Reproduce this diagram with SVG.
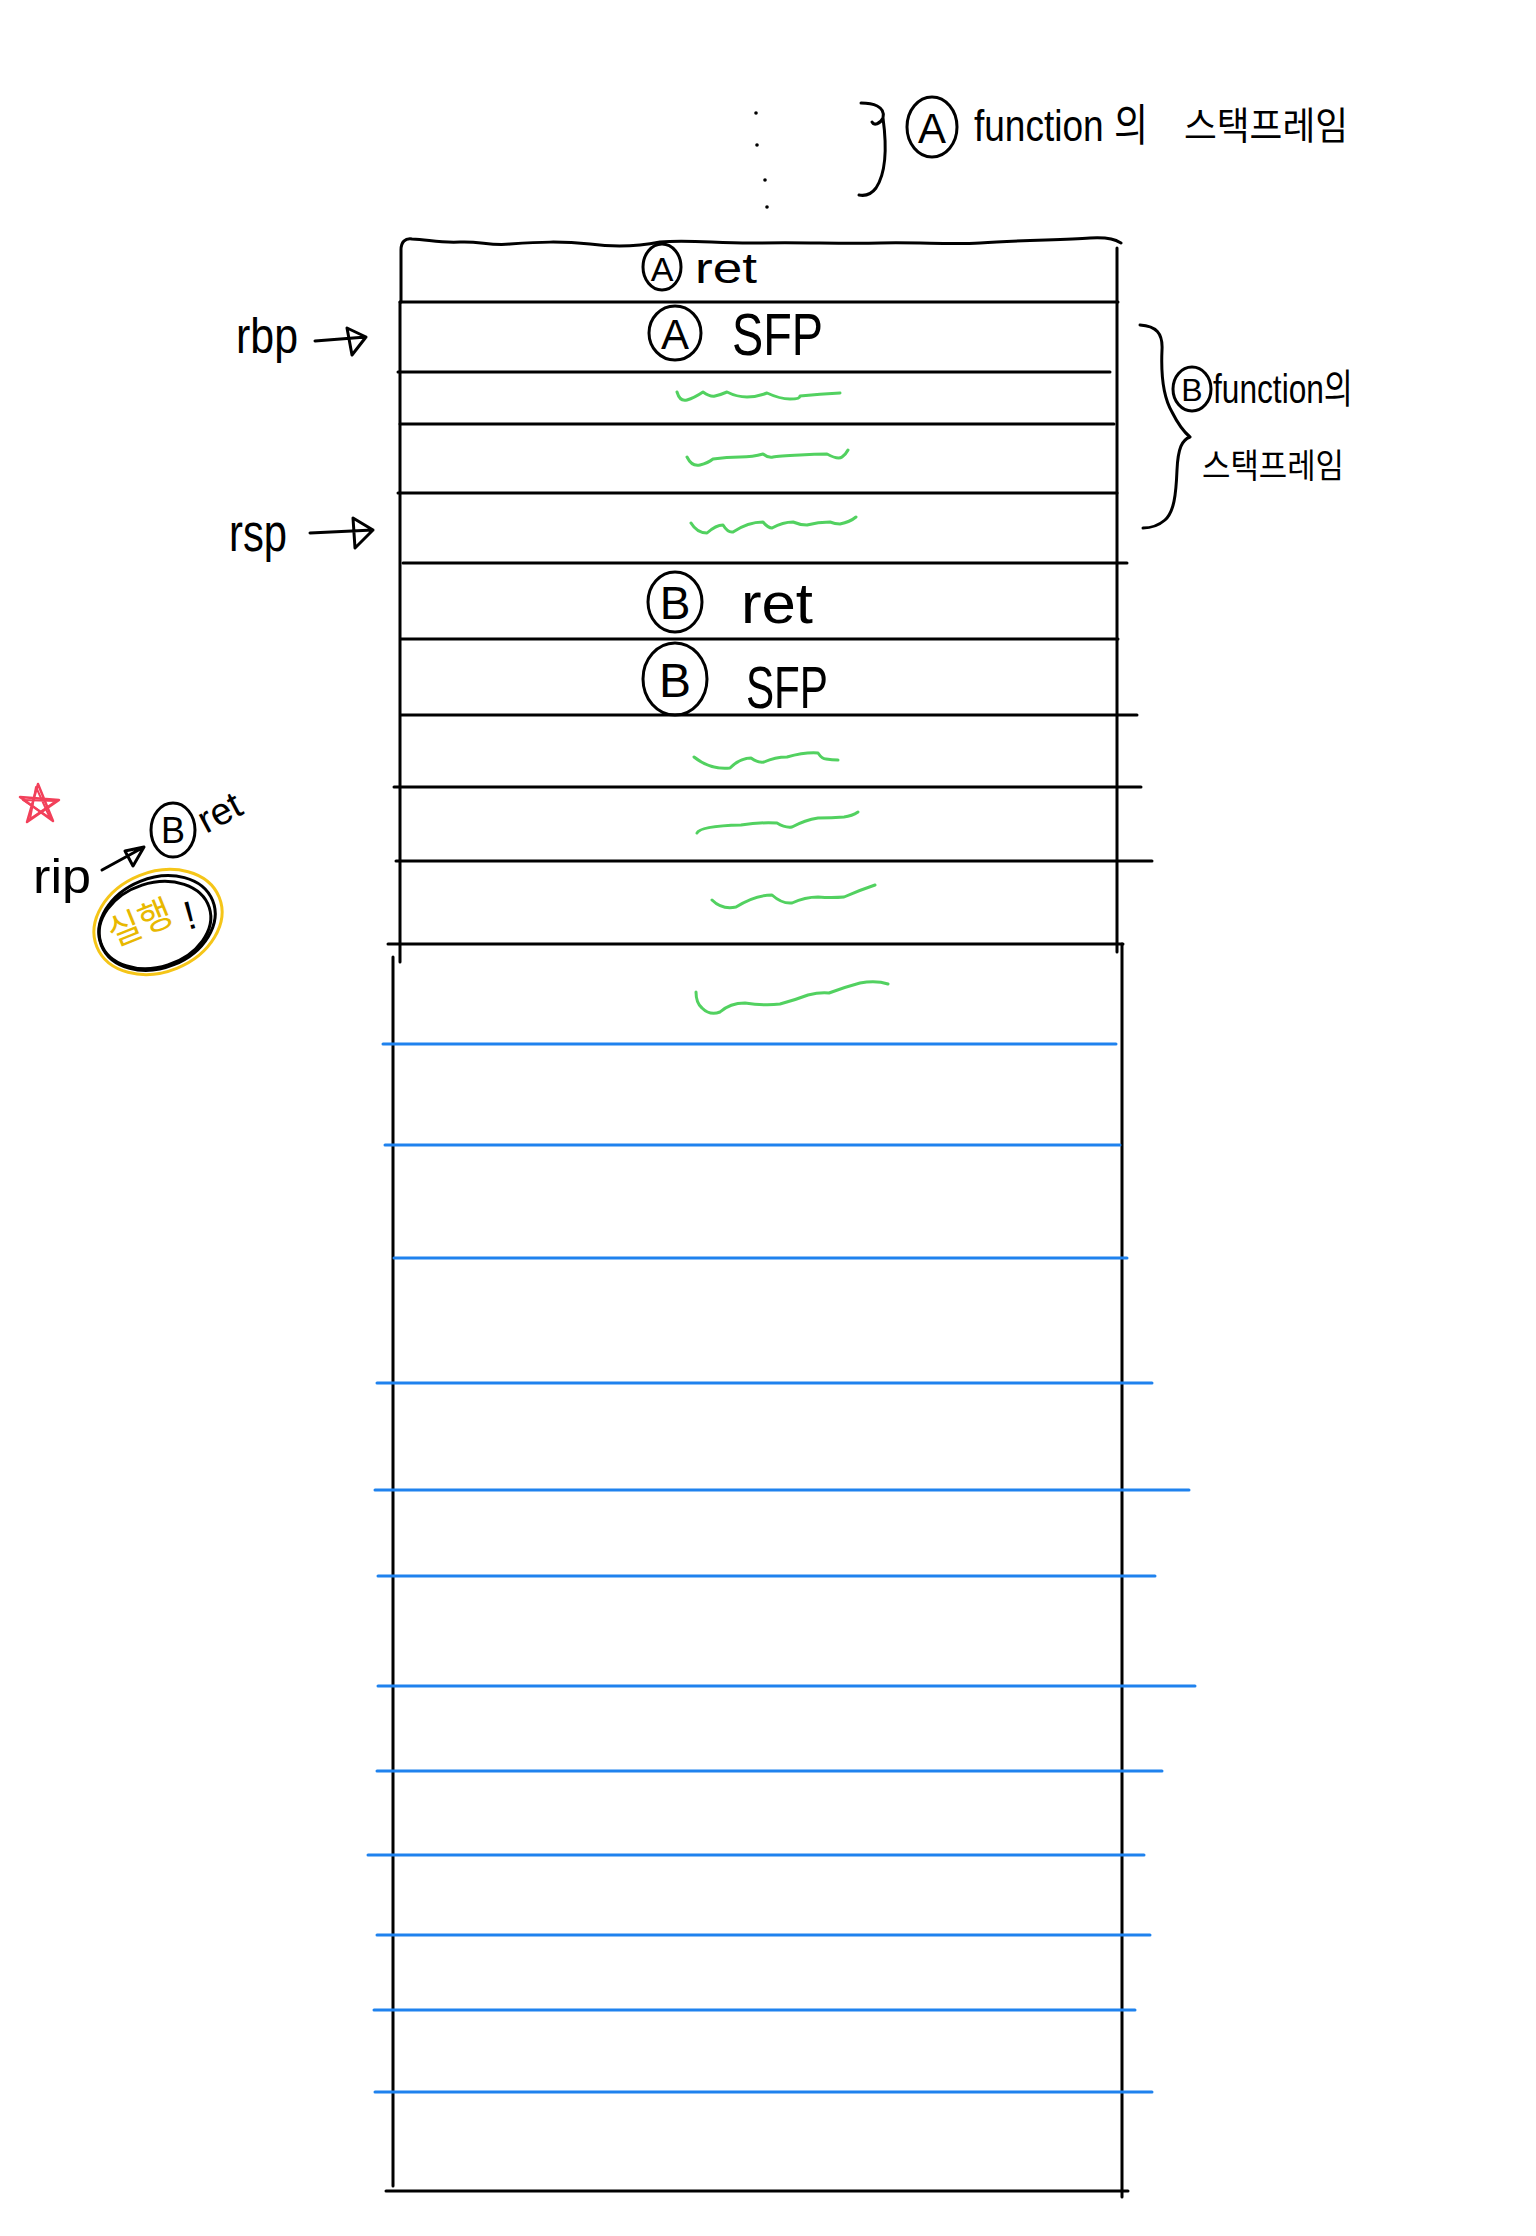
<svg xmlns="http://www.w3.org/2000/svg" width="1536" height="2236" viewBox="0 0 1536 2236">
<style>
.k{fill:none;stroke:#000;stroke-width:3;stroke-linecap:round;stroke-linejoin:round}
.g{fill:none;stroke:#52d160;stroke-width:3;stroke-linecap:round;stroke-linejoin:round}
.b{fill:none;stroke:#1f82ee;stroke-width:3;stroke-linecap:round}
.t{font-family:"Liberation Sans","Noto Sans CJK KR",sans-serif;fill:#000}
.kr{font-family:"Noto Sans CJK KR","Liberation Sans",sans-serif;fill:#000}
</style>
<rect width="1536" height="2236" fill="#fff"/>

<g id="top-label">
<circle cx="756" cy="113" r="1.8" fill="#000"/>
<circle cx="757" cy="145" r="1.8" fill="#000"/>
<circle cx="765" cy="180" r="1.8" fill="#000"/>
<circle cx="767" cy="207" r="1.8" fill="#000"/>
<path class="k" d="M861 103 C872 103 886 106 883 118 C880 124 874 126 872 122 M883 118 C886 140 888 170 876 188 C870 196 864 196 859 195"/>
<ellipse class="k" cx="932" cy="127" rx="25" ry="30"/>
<text class="t" x="932" y="143" font-size="42" text-anchor="middle">A</text>
<text class="t" x="974" y="141" font-size="44" textLength="174" lengthAdjust="spacingAndGlyphs">function 의</text>
<text class="kr" x="1184" y="139" font-size="38" textLength="164" lengthAdjust="spacingAndGlyphs">스택프레임</text>
</g>

<g id="stack-frame-upper">
<path class="k" d="M401 302 L401 250 C401 242 405 238 412 239 C430 240 440 243 460 242 C480 241 490 246 510 244 C540 242 560 241 590 244 C620 248 640 246 660 242 C690 239 720 244 760 243 C800 242 840 244 880 243 C920 242 950 245 980 243 C1020 240 1060 240 1090 238 C1110 237 1116 240 1121 243"/>
<path class="k" d="M400 302 L400 962"/>
<path class="k" d="M1117 248 L1117 952"/>
</g>

<g id="cell-A-ret">
<line class="k" x1="400" y1="302" x2="1118" y2="302"/>
<ellipse class="k" cx="662" cy="267" rx="19" ry="23"/>
<text class="t" x="662" y="281" font-size="34" text-anchor="middle">A</text>
<text class="t" x="695" y="283" font-size="42" textLength="62" lengthAdjust="spacingAndGlyphs">ret</text>
</g>

<g id="cell-A-SFP">
<line class="k" x1="398" y1="372" x2="1110" y2="372"/>
<ellipse class="k" cx="675" cy="333" rx="26" ry="27"/>
<text class="t" x="675" y="349" font-size="42" text-anchor="middle">A</text>
<text class="t" x="732" y="355" font-size="60" textLength="91" lengthAdjust="spacingAndGlyphs">SFP</text>
</g>

<g id="cell-local-1">
<line class="k" x1="400" y1="424" x2="1114" y2="424"/>
<path class="g" d="M677 392 Q680 402 687 400 T703 392 Q710 397 715 396 T727 392 Q737 397 747 397 T767 393 Q780 399 790 399 T800 396 Q820 394 840 393"/>
</g>
<g id="cell-local-2">
<line class="k" x1="398" y1="493" x2="1117" y2="493"/>
<path class="g" d="M687 457 Q692 467 700 465 T713 459 Q727 457 740 457 T763 454 Q768 458 773 457 T800 455 Q815 454 827 454 Q838 460 842 457 Q846 454 848 450"/>
</g>
<g id="cell-local-3">
<line class="k" x1="403" y1="563" x2="1127" y2="563"/>
<path class="g" d="M691 523 Q697 533 707 533 Q716 525 723 525 Q728 533 733 532 Q748 522 763 522 Q768 528 772 528 Q783 522 793 522 Q800 525 807 525 Q818 522 830 522 Q835 524 840 524 Q850 522 856 517"/>
</g>

<g id="cell-B-ret">
<line class="k" x1="401" y1="639" x2="1118" y2="639"/>
<ellipse class="k" cx="675" cy="602" rx="27" ry="30"/>
<text class="t" x="675" y="619" font-size="46" text-anchor="middle">B</text>
<text class="t" x="741" y="623" font-size="58" textLength="72" lengthAdjust="spacingAndGlyphs">ret</text>
</g>

<g id="cell-B-SFP">
<line class="k" x1="401" y1="715" x2="1137" y2="715"/>
<ellipse class="k" cx="675" cy="679" rx="32" ry="36"/>
<text class="t" x="675" y="697" font-size="48" text-anchor="middle">B</text>
<text class="t" x="746" y="708" font-size="60" textLength="82" lengthAdjust="spacingAndGlyphs">SFP</text>
</g>

<g id="cell-local-4">
<line class="k" x1="394" y1="787" x2="1141" y2="787"/>
<path class="g" d="M694 757 Q710 770 730 768 Q740 758 751 758 Q758 763 764 762 Q775 757 787 757 Q805 752 818 753 Q822 759 826 759 Q832 760 838 760"/>
</g>
<g id="cell-local-5">
<line class="k" x1="396" y1="861" x2="1152" y2="861"/>
<path class="g" d="M697 833 Q700 826 741 825 Q760 822 777 823 Q785 828 792 827 Q805 820 818 818 Q832 818 844 817 Q852 816 858 812"/>
</g>
<g id="cell-local-6">
<line class="k" x1="388" y1="944" x2="1123" y2="944"/>
<path class="g" d="M712 900 Q722 910 736 907 Q755 895 772 895 Q782 904 792 903 Q805 897 818 897 Q832 898 844 897 Q860 890 875 885"/>
</g>

<g id="stack-lower">
<path class="k" d="M393 957 L393 2186"/>
<path class="k" d="M1122 944 L1122 2197"/>
<line class="k" x1="386" y1="2191" x2="1128" y2="2191"/>
<path class="g" d="M696 992 Q696 1003 702 1008 Q710 1016 720 1012 Q730 1003 745 1003 Q765 1006 780 1004 Q795 1000 808 995 Q820 992 829 993 Q845 987 860 983 Q876 980 888 984"/>
<line class="b" x1="383" y1="1044" x2="1116" y2="1044"/>
<line class="b" x1="385" y1="1145" x2="1120" y2="1145"/>
<line class="b" x1="394" y1="1258" x2="1127" y2="1258"/>
<line class="b" x1="377" y1="1383" x2="1152" y2="1383"/>
<line class="b" x1="375" y1="1490" x2="1189" y2="1490"/>
<line class="b" x1="378" y1="1576" x2="1155" y2="1576"/>
<line class="b" x1="378" y1="1686" x2="1195" y2="1686"/>
<line class="b" x1="377" y1="1771" x2="1162" y2="1771"/>
<line class="b" x1="368" y1="1855" x2="1144" y2="1855"/>
<line class="b" x1="377" y1="1935" x2="1150" y2="1935"/>
<line class="b" x1="374" y1="2010" x2="1135" y2="2010"/>
<line class="b" x1="375" y1="2092" x2="1152" y2="2092"/>
</g>

<g id="label-rbp">
<text class="t" x="236" y="353" font-size="50" textLength="62" lengthAdjust="spacingAndGlyphs">rbp</text>
</g>
<g id="label-rsp">
<text class="t" x="229" y="551" font-size="54" textLength="58" lengthAdjust="spacingAndGlyphs">rsp</text>
</g>

<g id="brace-B">
<path class="k" d="M1140 325 C1156 326 1163 333 1162 350 C1161 372 1162 395 1172 412 C1178 424 1184 432 1190 437 C1182 440 1178 448 1177 470 C1176 495 1174 512 1165 520 C1158 526 1150 528 1143 528"/>
<ellipse class="k" cx="1192" cy="389" rx="19" ry="22"/>
<text class="t" x="1192" y="401" font-size="32" text-anchor="middle">B</text>
<text class="t" x="1213" y="403" font-size="40" textLength="140" lengthAdjust="spacingAndGlyphs">function의</text>
<text class="kr" x="1202" y="478" font-size="34" textLength="142" lengthAdjust="spacingAndGlyphs">스택프레임</text>
</g>

<g id="label-rip">
<path d="M38 784 L53 821 L20 797 L59 800 L27 822 Z" fill="none" stroke="#f2405a" stroke-width="2.5" stroke-linejoin="round"/>
<path d="M36 787 L50 818 L23 800 L56 801 L30 819 Z" fill="none" stroke="#f2405a" stroke-width="2" stroke-linejoin="round"/>
<text class="t" x="33" y="893" font-size="48" textLength="58" lengthAdjust="spacingAndGlyphs">rip</text>
<ellipse class="k" cx="173" cy="830" rx="22" ry="27"/>
<text class="t" x="173" y="843" font-size="36" text-anchor="middle">B</text>
<text class="t" x="0" y="0" font-size="38" transform="translate(206 834) rotate(-28)">ret</text>
<ellipse cx="158" cy="922" rx="66" ry="50" fill="none" stroke="#f5c518" stroke-width="3" transform="rotate(-22 158 922)"/>
<ellipse class="k" cx="157" cy="923" rx="60" ry="45" transform="rotate(-22 157 923)"/>
<ellipse class="k" cx="155" cy="925" rx="57" ry="42" transform="rotate(-18 155 925)"/>
<text x="0" y="0" font-size="36" fill="#e8b800" font-family="Noto Sans CJK KR,sans-serif" transform="translate(114 947) rotate(-22)">실행</text>
<text class="t" x="0" y="0" font-size="40" transform="translate(188 930) rotate(-15)">!</text>
</g>

<g id="connectors">
<path class="k" d="M315 341 L366 337 M347 328 L366 337 L352 355 Z"/>
<path class="k" d="M310 533 L373 530 M353 518 L373 530 L355 548 Z"/>
<path class="k" d="M102 870 L144 847 M125 851 L144 847 L133 866 Z"/>
</g>
</svg>
